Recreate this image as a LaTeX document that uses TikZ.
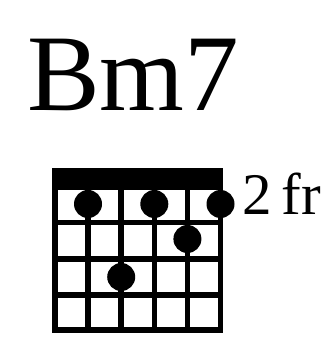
\documentclass[tikz,border=0pt]{standalone}
\usepackage{fontspec}
\setmainfont{Liberation Serif}
\begin{document}
\begin{tikzpicture}[x=1pt,y=-1pt,
  gridline/.style={line width=5.5pt,line cap=rect},
  fingerdot/.style={circle,fill=black,inner sep=0pt,minimum size=28pt},
  lbl/.style={anchor=base west,inner sep=0pt}]
\useasboundingbox (0,0) rectangle (332,339);
% title
\node[lbl,font=\fontsize{109}{110}\selectfont] (title) at (27,111) {Bm7};
% nut
\fill (52.3,167.5) rectangle (223.3,189);
% strings
\foreach \i in {0,...,5} {
  \draw[gridline] ({55+33.1*\i},171) -- ({55+33.1*\i},330);
}
% frets
\foreach \y in {187,222.5,259,295,330} {
  \draw[gridline] (55,\y) -- (220.5,\y);
}
% finger dots
\node[fingerdot] (d2) at (88,204) {};
\node[fingerdot] (d4) at (154.3,204) {};
\node[fingerdot] (d6) at (220.5,204) {};
\node[fingerdot] (d5) at (187.4,239) {};
\node[fingerdot] (d3) at (121.2,277) {};
% fret label
\node[lbl,font=\fontsize{59}{60}\selectfont] (fr) at (242,214) {2\,fr};
\end{tikzpicture}
\end{document}
